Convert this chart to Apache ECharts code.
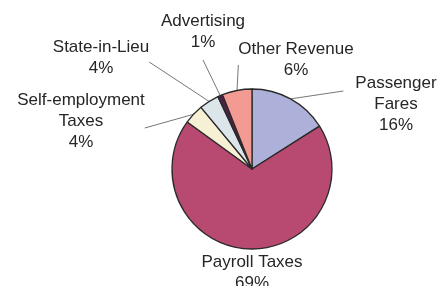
<!DOCTYPE html>
<html lang="en">
<head>
    <meta charset="utf-8">
    <title>Revenue sources</title>
    <script src="https://cdn.jsdelivr.net/npm/echarts@6/dist/echarts.min.js"></script>
    <style>
        html, body { margin: 0; padding: 0; background: #fff; }
        #chart { width: 439px; height: 286px; }
    </style>
</head>
<body>
    <div id="chart"></div>
    <script type="text/javascript">
        // data (percent of total revenue)
        var categories = ['Passenger Fares', 'Payroll Taxes', 'Self-employment Taxes', 'State-in-Lieu', 'Advertising', 'Other Revenue'];
        var labelNames = ['Passenger\nFares', 'Payroll Taxes', 'Self-employment\nTaxes', 'State-in-Lieu', 'Advertising', 'Other Revenue'];
        var shares = [16, 69, 4, 4, 1, 6];

        var colors = ['#adb1d9', '#b84a72', '#f6f0d4', '#dce6ea', '#4a2244', '#f39a93'];
        var LINE_H = 21;
        // text block centers, and padding [t, r, b, l] that moves where the leader line attaches
        var labelPos = [[396, 104], [252, 273], [81, 121], [101, 58], [203, 32], [296, 60]];
        var labelPad = [[26, 0, 0, 12], [0, 0, 0, 0], [0, 0, 14, 0], [0, 0, 8, 0], [0, 0, 7, 0], [0, 0, 10, 0]];

        var chart = echarts.init(document.getElementById('chart'));
        var option = {
            backgroundColor: '#fff',
            animation: false,
            color: colors,
            series: [
                {
                    type: 'pie',
                    center: [252, 169],
                    radius: 80,
                    startAngle: 90,
                    clockwise: true,
                    avoidLabelOverlap: false,
                    itemStyle: { borderColor: '#2a2a2a', borderWidth: 1.3 },
                    label: {
                        show: true,
                        position: 'outside',
                        color: '#262626',
                        fontFamily: 'Liberation Sans, Arial, sans-serif',
                        fontSize: 17,
                        lineHeight: LINE_H,
                        align: 'center',
                        formatter: function (p) { return labelNames[p.dataIndex] + '\n' + p.value + '%'; }
                    },
                    labelLine: {
                        show: true,
                        length: 0,
                        length2: 0,
                        smooth: false,
                        lineStyle: { color: '#777', width: 1 }
                    },
                    labelLayout: function (p) {
                        var i = p.dataIndex;
                        var pos = labelPos[i];
                        var pad = labelPad[i];
                        var h = (labelNames[i].split('\n').length + 1) * LINE_H;
                        return {
                            x: pos[0] - (pad[3] - pad[1]) / 2,
                            y: pos[1] - h / 2 - pad[0],
                            align: 'center',
                            verticalAlign: 'top'
                        };
                    },
                    emphasis: { disabled: true },
                    data: categories.map(function (name, i) {
                        var item = { name: name, value: shares[i], label: { padding: labelPad[i] } };
                        if (i === 1) item.labelLine = { show: false };
                        return item;
                    })
                }
            ]
        };
        chart.setOption(option);
    </script>
</body>
</html>
